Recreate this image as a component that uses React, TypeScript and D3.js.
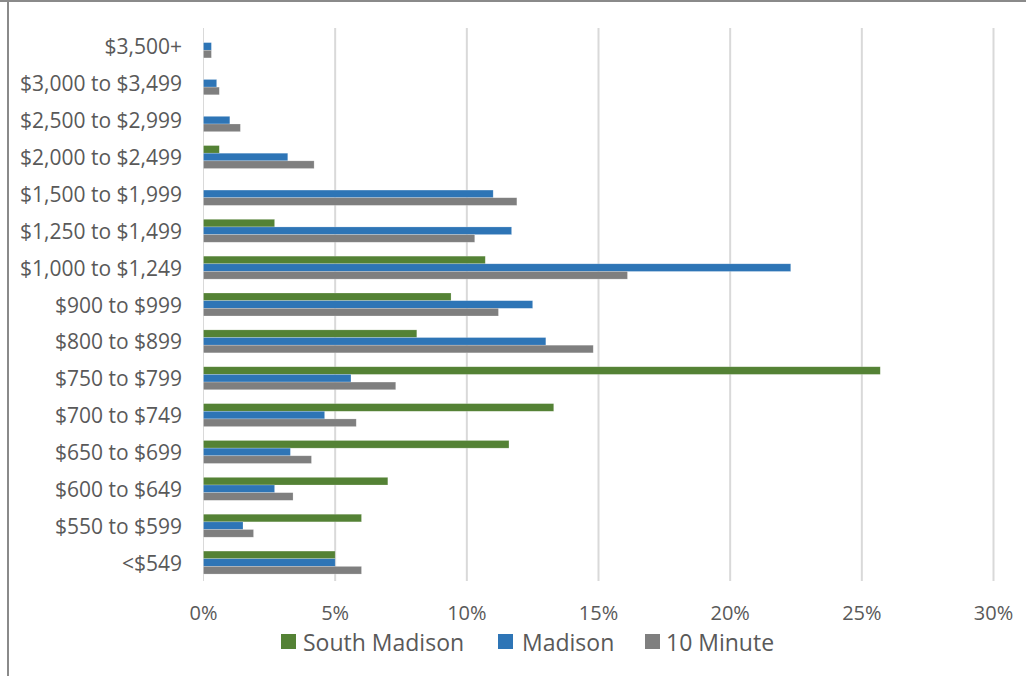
import React from "react";
import * as d3 from "d3";

const categories = [
  "$3,500+",
  "$3,000 to $3,499",
  "$2,500 to $2,999",
  "$2,000 to $2,499",
  "$1,500 to $1,999",
  "$1,250 to $1,499",
  "$1,000 to $1,249",
  "$900 to $999",
  "$800 to $899",
  "$750 to $799",
  "$700 to $749",
  "$650 to $699",
  "$600 to $649",
  "$550 to $599",
  "<$549",
];

const southMadison = [0, 0, 0, 0.6, 0, 2.7, 10.7, 9.4, 8.1, 25.7, 13.3, 11.6, 7.0, 6.0, 5.0];
const madison = [0.3, 0.5, 1.0, 3.2, 11.0, 11.7, 22.3, 12.5, 13.0, 5.6, 4.6, 3.3, 2.7, 1.5, 5.0];
const tenMinute = [0.3, 0.6, 1.4, 4.2, 11.9, 10.3, 16.1, 11.2, 14.8, 7.3, 5.8, 4.1, 3.4, 1.9, 6.0];

const seriesNames = ["South Madison", "Madison", "10 Minute"];
const seriesValues = [southMadison, madison, tenMinute];
const seriesColors = ["#548235", "#2E75B6", "#7F7F7F"];
const xTicks = [0, 5, 10, 15, 20, 25, 30];

const W = 1026;
const H = 676;
const FONT = "'Open Sans', sans-serif";
const TEXT = "#595959";

export default function App() {
  React.useEffect(() => {
    document.body.style.margin = "0";
  }, []);

  const x = d3.scaleLinear().domain([0, 30]).range([203.5, 993.5]);
  const pi = 0.377;
  const y = d3
    .scaleBand<string>()
    .domain(categories)
    .range([28, 581])
    .paddingInner(pi)
    .paddingOuter(pi / 2);
  const ys = d3
    .scaleBand<string>()
    .domain(seriesNames)
    .range([0, y.bandwidth()])
    .padding(0);

  const legendItems = [
    { sx: 281, tx: 303 },
    { sx: 498, tx: 522 },
    { sx: 645, tx: 666 },
  ];

  return (
    <svg width={W} height={H} style={{ display: "block" }}>
      <rect x={0} y={0} width={W} height={H} fill="#ffffff" />
      {/* chart border */}
      <line x1={0} x2={W} y1={1} y2={1} stroke="#8a8a8a" strokeWidth={2} />
      <line x1={8} x2={8} y1={0} y2={H} stroke="#8a8a8a" strokeWidth={2} />

      {/* gridlines */}
      {xTicks.map((t) => (
        <line
          key={"g" + t}
          x1={x(t)}
          x2={x(t)}
          y1={28}
          y2={581}
          stroke="#d9d9d9"
          strokeWidth={t === 0 ? 1 : 2}
        />
      ))}

      {/* bars */}
      {categories.map((c, i) => (
        <g key={c} transform={`translate(0,${y(c)})`}>
          {seriesNames.map((s, j) => {
            const v = seriesValues[j][i];
            if (!v) return null;
            return (
              <rect
                key={s}
                x={x(0)}
                y={ys(s)}
                width={x(v) - x(0)}
                height={ys.bandwidth()}
                fill={seriesColors[j]}
                stroke="#ffffff"
                strokeOpacity={0.35}
                strokeWidth={0.6}
              />
            );
          })}
        </g>
      ))}

      {/* category labels */}
      {categories.map((c) => (
        <text
          key={"l" + c}
          x={182}
          y={(y(c) ?? 0) + y.bandwidth() / 2}
          textAnchor="end"
          dominantBaseline="central"
          fontFamily={FONT}
          fontSize={21}
          fill={TEXT}
        >
          {c}
        </text>
      ))}

      {/* x tick labels */}
      {xTicks.map((t) => (
        <text
          key={"t" + t}
          x={x(t)}
          y={612}
          textAnchor="middle"
          dominantBaseline="central"
          fontFamily={FONT}
          fontSize={20}
          fill={TEXT}
        >
          {t + "%"}
        </text>
      ))}

      {/* legend */}
      {seriesNames.map((s, j) => (
        <g key={"lg" + s}>
          <rect x={legendItems[j].sx} y={634} width={15} height={15} fill={seriesColors[j]} />
          <text
            x={legendItems[j].tx}
            y={641.5}
            dominantBaseline="central"
            fontFamily={FONT}
            fontSize={23}
            fill={TEXT}
          >
            {s}
          </text>
        </g>
      ))}
    </svg>
  );
}
